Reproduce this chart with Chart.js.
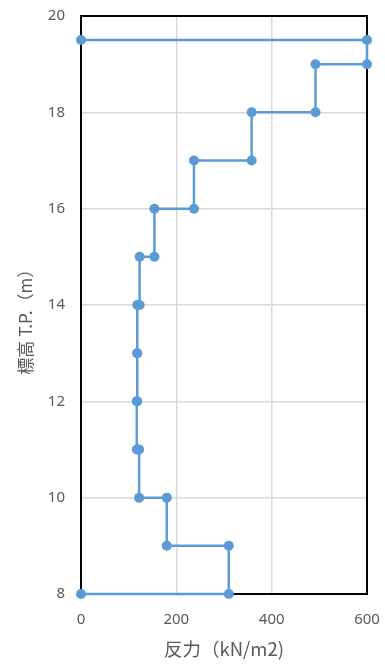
<html lang="ja">
  <head>
    <meta charset="utf-8">
    <title>反力</title>
    <script src="https://cdn.jsdelivr.net/npm/chart.js@4.4.1/dist/chart.umd.min.js"></script>
    <style>
      html, body { margin: 0; padding: 0; background: #fff; }
      #wrap { width: 385px; height: 666px; }
    </style>
  </head>
  <body>
  <div id="wrap"><canvas id="myChart" width="385" height="666"></canvas></div>
  <script>
    // reaction (kN/m2) and elevation T.P. (m), stepwise
    var reaction = [0, 310, 310, 180, 180, 122, 122, 117, 117, 118, 118, 118, 118, 123, 123, 154, 154, 237, 237, 358, 358, 492, 492, 600, 600, 0];
    var elevation = [8, 8, 9, 9, 10, 10, 11, 11, 12, 12, 13, 13, 14, 14, 15, 15, 16, 16, 17, 17, 18, 18, 19, 19, 19.5, 19.5];
    var xTicks = [0, 200, 400, 600];
    var yTicks = [8, 10, 12, 14, 16, 18, 20];

    var points = [];
    for (var i = 0; i < reaction.length; i++) {
      points.push({x: reaction[i], y: elevation[i]});
    }

    var lineColor = '#5B9BD5';
    var textColor = '#595959';

    // black frame round the plot area, under the line
    var frame = {
      id: 'frame',
      beforeDatasetsDraw: function(chart) {
        var a = chart.chartArea;
        var ctx = chart.ctx;
        ctx.save();
        ctx.strokeStyle = '#000';
        ctx.lineWidth = 2;
        ctx.strokeRect(a.left, a.top, a.right - a.left, a.bottom - a.top);
        ctx.restore();
      }
    };

    new Chart(document.getElementById('myChart').getContext('2d'), {
      type: 'scatter',
      data: {
        datasets: [{
          data: points,
          showLine: true,
          clip: false,
          borderColor: lineColor,
          backgroundColor: lineColor,
          borderWidth: 2.5,
          pointRadius: 5,
          pointBorderWidth: 0,
          pointBackgroundColor: lineColor
        }]
      },
      options: {
        responsive: false,
        animation: false,
        layout: { padding: { top: 16, right: 18, left: 0, bottom: 6 } },
        plugins: { legend: { display: false }, tooltip: { enabled: false } },
        scales: {
          x: {
            min: 0, max: 600,
            afterBuildTicks: function(s) { s.ticks = xTicks.map(function(v) { return {value: v}; }); },
            afterFit: function(s) { s.height = 66; s.paddingLeft = 0; s.paddingRight = 0; },
            grid: { color: '#d9d9d9', lineWidth: 1.5, drawTicks: false },
            border: { display: false },
            ticks: { color: textColor, padding: 17, font: { family: 'Noto Sans', size: 15 } },
            title: {
              display: true,
              text: '反力（kN/m2)',
              color: textColor,
              padding: 0,
              font: { family: 'Noto Sans CJK JP', size: 18.5 }
            }
          },
          y: {
            min: 8, max: 20,
            afterBuildTicks: function(s) { s.ticks = yTicks.map(function(v) { return {value: v}; }); },
            afterFit: function(s) { s.width = 81; s.paddingTop = 0; s.paddingBottom = 0; },
            grid: { color: '#d9d9d9', lineWidth: 1.5, drawTicks: false },
            border: { display: false },
            ticks: { color: textColor, padding: 16, font: { family: 'Noto Sans', size: 15 } },
            title: {
              display: true,
              text: '標高 T.P.（m）\u3000\u3000',
              color: textColor,
              padding: { top: 15, bottom: 0 },
              font: { family: 'Noto Sans CJK JP', size: 17 }
            }
          }
        }
      },
      plugins: [frame]
    });
  </script>
  </body>
</html>
